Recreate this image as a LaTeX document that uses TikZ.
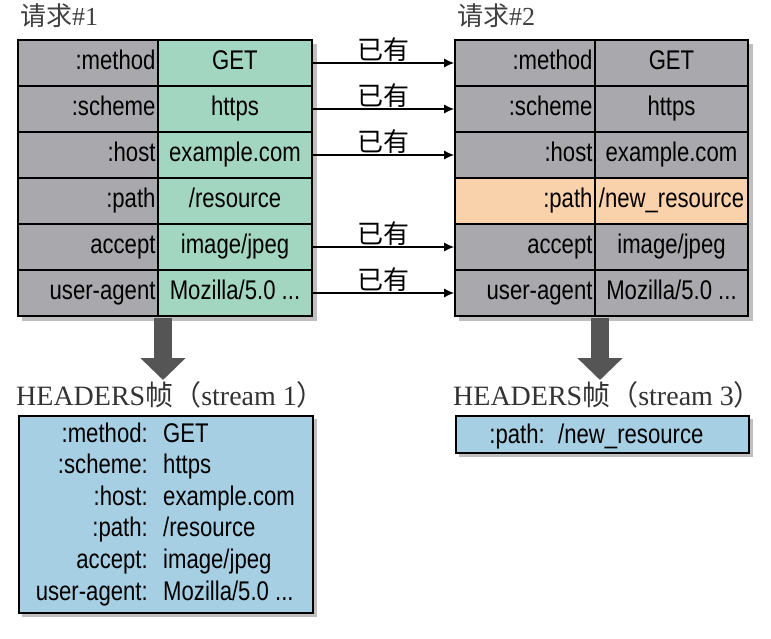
\documentclass[tikz,border=0pt]{standalone}
\usepackage{fontspec}
\setmainfont{Liberation Serif}
\newfontfamily\cond[FakeStretch=0.82]{Liberation Sans}
\newfontfamily\cjk{Noto Sans CJK SC}
\usetikzlibrary{arrows.meta}
\definecolor{cgray}{HTML}{A8A8AD}
\definecolor{cgreen}{HTML}{A3D6C0}
\definecolor{cblue}{HTML}{A6CFE4}
\definecolor{corange}{HTML}{F9D2AC}
\definecolor{cdark}{HTML}{555555}
\begin{document}
\begin{tikzpicture}[x=1pt,y=-1pt,
  cell/.style={draw=black,line width=1.6pt,minimum height=46pt,inner sep=2pt,text height=19pt,text depth=6pt,font=\cond\fontsize{27}{27}\selectfont},
  key/.style={cell,fill=cgray,minimum width=140pt,text width=135pt,align=right},
  val/.style={cell,fill=cgreen,minimum width=154pt,align=center},
  valr/.style={cell,fill=cgray,minimum width=153pt,align=center},
  conn/.style={-{Latex[length=10pt,width=9pt]},line width=1.4pt},
  lab/.style={font=\cjk\fontsize{26}{26}\selectfont,above,inner sep=1pt},
  big/.style={-{Triangle[length=22pt,width=44pt]},line width=18pt,draw=cdark},
  title/.style={font=\cjk\fontsize{26}{26}\selectfont,text=black!75,anchor=west,inner sep=0},
  htitle/.style={font=\fontsize{28}{28}\selectfont,text=black!80,anchor=west,inner sep=0},
  btext/.style={font=\cond\fontsize{27}{27}\selectfont,inner sep=0}]
\useasboundingbox (0,0) rectangle (771,639);
\fill[white] (0,0) rectangle (771,639);
% shadows
\fill[black!25] (22,44) rectangle (317,321);
\fill[black!25] (459,44) rectangle (753,321);
\fill[black!25] (22,419) rectangle (317,617);
\fill[black!25] (459,419) rectangle (753,457);
\node[title] (t1) at (20,16) {请求\fontspec{Liberation Serif}\#1};
\node[title] (t2) at (457,16) {请求\fontspec{Liberation Serif}\#2};
\foreach \k/\v/\n [count=\i] in {{:method}/GET/a,{:scheme}/https/b,{:host}/example.com/c,{:path}/{/resource}/d,accept/{image/jpeg}/e,user-agent/{Mozilla/5.0 ...}/f}{
  \node[key] (L\n) at (88,{40+46*\i-23}) {\k};
  \node[val] (V\n) at (235,{40+46*\i-23}) {\v};
}
\node[key] (Ra) at (525,63) {:method}; \node[valr] (Wa) at (671.5,63) {GET};
\node[key] (Rb) at (525,109) {:scheme}; \node[valr] (Wb) at (671.5,109) {https};
\node[key] (Rc) at (525,155) {:host}; \node[valr] (Wc) at (671.5,155) {example.com};
\node[key,fill=corange] (Rd) at (525,201) {:path}; \node[valr,fill=corange,inner sep=0pt] (Wd) at (671.5,201) {/new\_resource};
\node[key] (Re) at (525,247) {accept}; \node[valr] (We) at (671.5,247) {image/jpeg};
\node[key] (Rf) at (525,293) {user-agent}; \node[valr] (Wf) at (671.5,293) {Mozilla/5.0 ...};
\foreach \n in {a,b,c,e,f}{
  \draw[conn] (V\n.east) -- node[lab]{已有} (R\n.west);
}
\coordinate (s1) at (163,318); \coordinate (e1) at (163,380);
\coordinate (s2) at (600,318); \coordinate (e2) at (600,380);
\draw[big] (s1) -- (e1);
\draw[big] (s2) -- (e2);
\node[htitle] (h1) at (16,395) {HEADERS{\cjk 帧}{\cjk （}stream 1{\cjk ）}};
\node[htitle] (h2) at (453,395) {HEADERS{\cjk 帧}{\cjk （}stream 3{\cjk ）}};
\node[draw=black,line width=1.6pt,fill=cblue,minimum width=294pt,minimum height=197pt,anchor=north west] (B1) at (18,415) {};
\node[draw=black,line width=1.6pt,fill=cblue,minimum width=293pt,minimum height=37pt,anchor=north west] (B2) at (455,415) {};
\foreach \k/\v [count=\i] in {{:method:}/GET,{:scheme:}/https,{:host:}/example.com,{:path:}/{/resource},{accept:}/{image/jpeg},{user-agent:}/{Mozilla/5.0 ...}}{
  \node[btext,anchor=base east] (bk\i) at (148,{442+31.6*(\i-1)}) {\k};
  \node[btext,anchor=base west] (bv\i) at (163,{442+31.6*(\i-1)}) {\v};
}
\node[btext,anchor=base east] (ck) at (545,443) {:path:};
\node[btext,anchor=base west] (cv) at (558,443) {/new\_resource};
\end{tikzpicture}
\end{document}
